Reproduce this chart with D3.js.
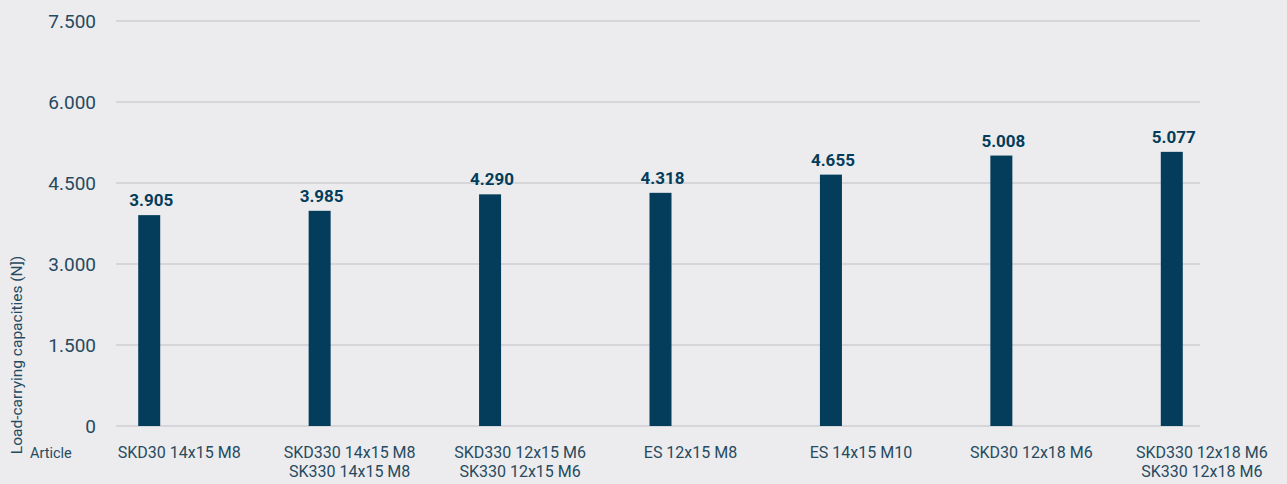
<!DOCTYPE html>
<html>
<head>
<meta charset="utf-8">
<script src="https://cdn.jsdelivr.net/npm/d3@7"></script>
<style>
  body { margin: 0; background: #ececee; }
  svg { display: block; font-family: Roboto, "Noto Sans", sans-serif; }
</style>
</head>
<body>
<div id="chart"></div>
<script>
// data
var articles = [
    ["SKD30 14x15 M8"],
    ["SKD330 14x15 M8", "SK330 14x15 M8"],
    ["SKD330 12x15 M6", "SK330 12x15 M6"],
    ["ES 12x15 M8"],
    ["ES 14x15 M10"],
    ["SKD30 12x18 M6"],
    ["SKD330 12x18 M6", "SK330 12x18 M6"]
];
var capacities = [3905, 3985, 4290, 4318, 4655, 5008, 5077];
var yTicks = [0, 1500, 3000, 4500, 6000, 7500];

var width = 1287, height = 484;
var textColor = "#264a60", barColor = "#043d5b";

var svg = d3.select("#chart")
    .append("svg")
    .attr("width", width)
    .attr("height", height);

var keys = articles.map(function(d, i) { return i; });

// band per article, bar sits left of band centre
var x = d3.scaleBand()
    .domain(keys)
    .range([94, 1287]);

var y = d3.scaleLinear()
    .domain([0, 7500])
    .range([426, 21]);

var barW = 22, barShift = -30;

// grid lines
svg.append("g")
    .selectAll("line")
    .data(yTicks)
    .enter()
    .append("line")
    .attr("x1", 116)
    .attr("x2", 1200)
    .attr("y1", function(d) { return y(d); })
    .attr("y2", function(d) { return y(d); })
    .attr("stroke", "#cfcfd3")
    .attr("stroke-width", 1.5);

// y axis labels
var yAxis = d3.axisLeft(y)
    .tickValues(yTicks)
    .tickSize(0)
    .tickPadding(0)
    .tickFormat(function(d) { return d3.format(",")(d).replace(",", "."); });

svg.append("g")
    .attr("transform", "translate(96,0)")
    .call(yAxis)
    .call(function(g) { g.select(".domain").remove(); })
    .selectAll("text")
    .attr("fill", textColor)
    .attr("font-size", 19)
    .attr("dy", "0.36em")
    .style("font-family", "Roboto, sans-serif");

// bars
svg.selectAll(".bar")
    .data(capacities)
    .enter()
    .append("rect")
    .attr("class", "bar")
    .attr("x", function(d, i) { return x(i) + x.bandwidth() / 2 + barShift - barW / 2; })
    .attr("width", barW)
    .attr("y", function(d) { return y(d); })
    .attr("height", function(d) { return y(0) - y(d); })
    .attr("fill", barColor);

// value labels
svg.selectAll(".val")
    .data(capacities)
    .enter()
    .append("text")
    .attr("class", "val")
    .attr("x", function(d, i) { return x(i) + x.bandwidth() / 2 + barShift + 2; })
    .attr("y", function(d) { return y(d) - 9; })
    .attr("text-anchor", "middle")
    .attr("font-size", 17)
    .attr("font-weight", "bold")
    .attr("fill", barColor)
    .text(function(d) { return d3.format(",")(d).replace(",", "."); });

// category labels
var cat = svg.selectAll(".cat")
    .data(articles)
    .enter()
    .append("text")
    .attr("class", "cat")
    .attr("text-anchor", "middle")
    .attr("font-size", 16)
    .attr("fill", textColor)
    .attr("transform", function(d, i) { return "translate(" + (x(i) + x.bandwidth() / 2) + ",458)"; });

cat.selectAll("tspan")
    .data(function(d) { return d; })
    .enter()
    .append("tspan")
    .attr("x", 0)
    .attr("y", function(d, i) { return i * 19; })
    .text(function(d) { return d; });

svg.append("text")
    .attr("x", 30)
    .attr("y", 458)
    .attr("font-size", 14.5)
    .attr("fill", textColor)
    .text("Article");

svg.append("text")
    .attr("transform", "translate(22,355) rotate(-90)")
    .attr("text-anchor", "middle")
    .attr("font-size", 15.5)
    .attr("fill", textColor)
    .text("Load-carrying capacities (N])");
</script>
</body>
</html>
